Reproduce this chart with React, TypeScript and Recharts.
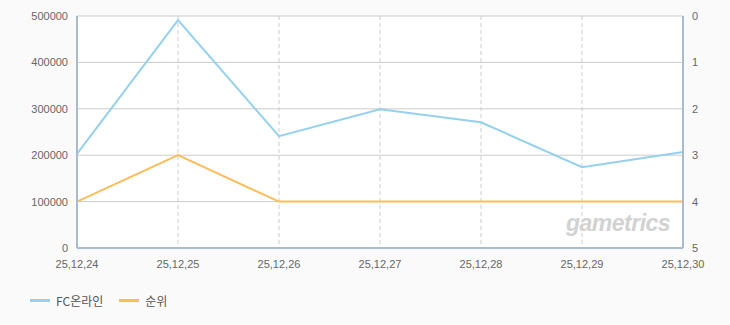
import { LineChart, Line, XAxis, YAxis, CartesianGrid } from "recharts";

const dates = ["25,12,24", "25,12,25", "25,12,26", "25,12,27", "25,12,28", "25,12,29", "25,12,30"];
const viewers = [203000, 491000, 241000, 299000, 271000, 174000, 207000];
const ranks = [4, 3, 4, 4, 4, 4, 4];
const leftTicks = [0, 100000, 200000, 300000, 400000, 500000];
const rightTicks = [0, 1, 2, 3, 4, 5];

const BLUE = "#95d1ef";
const ORANGE = "#fdbd5a";
const AXIS = "#a9bbcf";

const data = dates.map((d, i) => ({ date: d, viewers: viewers[i], rank: ranks[i] }));

const tickStyle = { fill: "#666", fontSize: 11, fontFamily: "'Liberation Sans', Arial, sans-serif" };

export default function App() {
  return (
    <div
      style={{
        position: "absolute",
        left: 0,
        top: 0,
        width: 730,
        height: 325,
        background: "#fafafa",
        fontFamily: "'Liberation Sans', Arial, sans-serif",
      }}
    >
      <LineChart
        width={730}
        height={325}
        data={data}
        margin={{ top: 16, right: 17, bottom: 57, left: 10 }}
      >
        <CartesianGrid
          yAxisId="left"
          stroke="#cccccc"
          fill="#ffffff"
          vertical={false}
        />
        <CartesianGrid
          yAxisId="left"
          stroke="#cccccc"
          strokeDasharray="4 3"
          horizontal={false}
        />
        <XAxis
          dataKey="date"
          scale="point"
          padding={{ left: 0, right: 0 }}
          axisLine={{ stroke: AXIS, strokeWidth: 2 }}
          tickLine={false}
          tick={tickStyle}
          tickMargin={6}
          interval={0}
          height={20}
        />
        <XAxis
          xAxisId="top"
          orientation="top"
          dataKey="date"
          scale="point"
          padding={{ left: 0, right: 0 }}
          axisLine={{ stroke: AXIS, strokeWidth: 2 }}
          tick={false}
          tickLine={false}
          height={0}
        />
        <YAxis
          yAxisId="left"
          domain={[0, 500000]}
          ticks={leftTicks}
          axisLine={{ stroke: AXIS, strokeWidth: 2 }}
          tickLine={false}
          tick={tickStyle}
          tickMargin={3}
          width={67}
          interval={0}
        />
        <YAxis
          yAxisId="right"
          orientation="right"
          domain={[0, 5]}
          reversed
          ticks={rightTicks}
          axisLine={{ stroke: AXIS, strokeWidth: 2 }}
          tickLine={false}
          tick={tickStyle}
          tickMargin={3}
          width={30}
          interval={0}
        />
        <Line
          yAxisId="left"
          dataKey="viewers"
          stroke={BLUE}
          strokeWidth={2}
          dot={false}
          activeDot={false}
          isAnimationActive={false}
        />
        <Line
          yAxisId="right"
          dataKey="rank"
          stroke={ORANGE}
          strokeWidth={2}
          dot={false}
          activeDot={false}
          isAnimationActive={false}
        />
      </LineChart>
      <div
        style={{
          position: "absolute",
          left: 566,
          top: 210,
          fontSize: 23,
          fontStyle: "italic",
          fontWeight: "bold",
          color: "#d2d2d2",
          letterSpacing: -0.5,
          pointerEvents: "none",
        }}
      >
        gametrics
      </div>
      <div
        style={{
          position: "absolute",
          left: 30,
          top: 292,
          display: "flex",
          alignItems: "center",
          fontSize: 12,
          color: "#555",
          fontFamily: "'Noto Sans CJK KR', sans-serif",
        }}
      >
        <span style={{ width: 20, height: 3, background: BLUE, display: "inline-block", marginRight: 6 }} />
        <span style={{ marginRight: 16 }}>FC온라인</span>
        <span style={{ width: 20, height: 3, background: ORANGE, display: "inline-block", marginRight: 6 }} />
        <span>순위</span>
      </div>
    </div>
  );
}
